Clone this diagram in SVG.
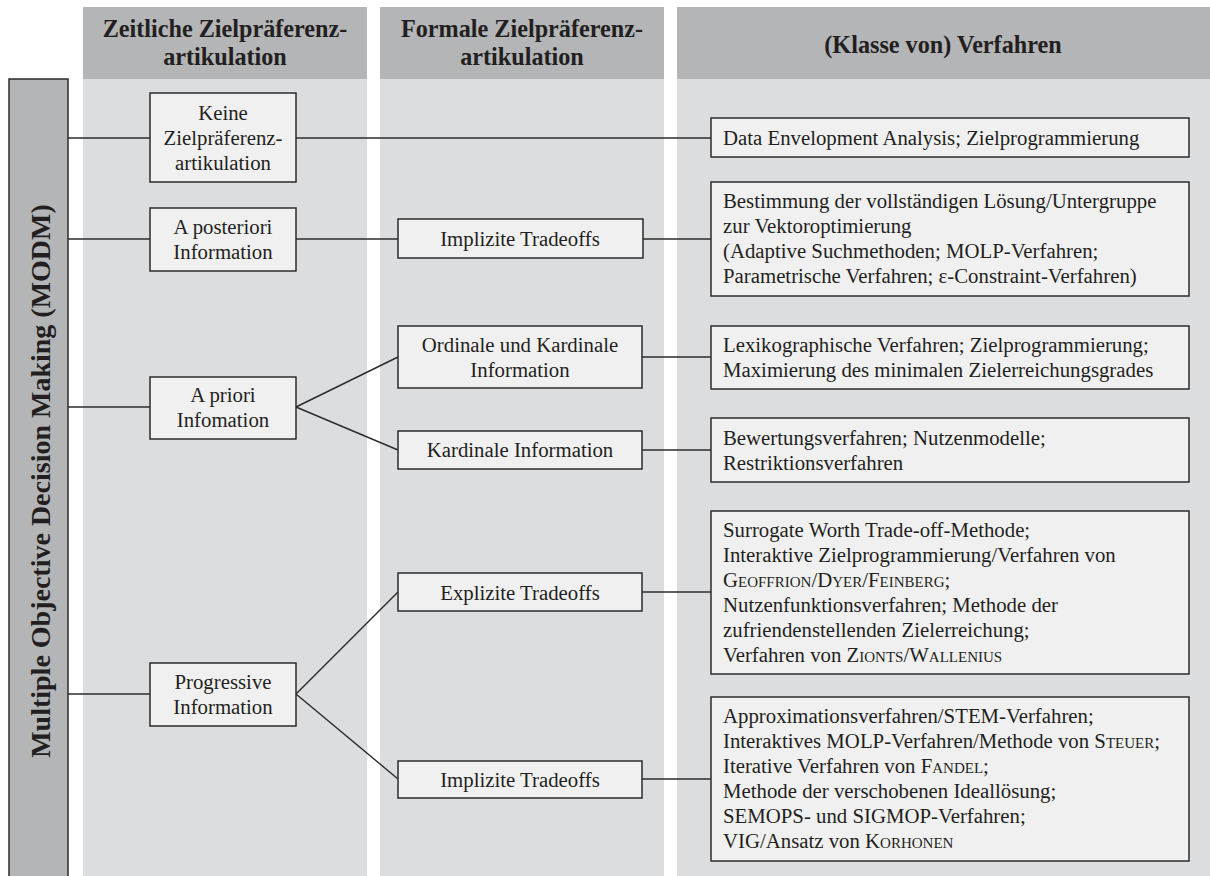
<svg xmlns="http://www.w3.org/2000/svg" width="1210" height="876" viewBox="0 0 1210 876">
  <style>
    .colbody { fill: #dcdddf; }
    .colhead { fill: #b4b5b7; }
    .head { font-family: "Liberation Serif", "Times New Roman", serif; font-weight: bold; font-size: 24.2px; fill: #231f20; text-anchor: middle; }
    .side { font-family: "Liberation Serif", "Times New Roman", serif; font-weight: bold; font-size: 28px; fill: #231f20; text-anchor: middle; }
    .box { fill: #f0f0f0; stroke: #2b2b2b; stroke-width: 1.5; }
    .t { font-family: "Liberation Serif", "Times New Roman", serif; font-size: 20.8px; fill: #231f20; }
    .c { text-anchor: middle; }
    .sc { font-variant: small-caps; }
    .link { stroke: #2b2b2b; stroke-width: 1.4; fill: none; }
  </style>

  <rect width="1210" height="876" fill="#ffffff"/>

  <!-- column backgrounds -->
  <g id="columns">
    <rect class="colbody" x="83" y="79" width="284" height="797"/>
    <rect class="colbody" x="380" y="79" width="284" height="797"/>
    <rect class="colbody" x="677" y="79" width="533" height="797"/>
    <rect class="colhead" x="83" y="7" width="284" height="72"/>
    <rect class="colhead" x="380" y="7" width="284" height="72"/>
    <rect class="colhead" x="677" y="7" width="533" height="72"/>
    <text class="head" x="225" y="37">Zeitliche Zielpräferenz-</text>
    <text class="head" x="225" y="65">artikulation</text>
    <text class="head" x="522" y="37">Formale Zielpräferenz-</text>
    <text class="head" x="522" y="65">artikulation</text>
    <text class="head" x="943" y="53">(Klasse von) Verfahren</text>
  </g>

  <!-- connectors -->
  <g id="connectors">
    <line class="link" x1="68" y1="138" x2="150" y2="138"/>
    <line class="link" x1="68" y1="239" x2="150" y2="239"/>
    <line class="link" x1="68" y1="407" x2="150" y2="407"/>
    <line class="link" x1="68" y1="694" x2="150" y2="694"/>
    <line class="link" x1="296" y1="138" x2="711" y2="138"/>
    <line class="link" x1="296" y1="239" x2="398" y2="239"/>
    <line class="link" x1="643" y1="239" x2="711" y2="239"/>
    <line class="link" x1="296" y1="407" x2="398" y2="357"/>
    <line class="link" x1="296" y1="407" x2="398" y2="450"/>
    <line class="link" x1="642" y1="357" x2="711" y2="357"/>
    <line class="link" x1="642" y1="450" x2="711" y2="450"/>
    <line class="link" x1="296" y1="694" x2="398" y2="592"/>
    <line class="link" x1="296" y1="694" x2="398" y2="779"/>
    <line class="link" x1="642" y1="592" x2="711" y2="592"/>
    <line class="link" x1="642" y1="779" x2="711" y2="779"/>
  </g>

  <!-- root bar -->
  <g id="modm">
    <rect x="9" y="79" width="59" height="800" fill="#b4b5b7" stroke="#2b2b2b" stroke-width="1.5"/>
    <text class="side" transform="translate(50 481) rotate(-90)">Multiple Objective Decision Making (MODM)</text>
  </g>

  <!-- timing of preference articulation -->
  <g id="keine">
    <rect class="box" x="150" y="93" width="146" height="89"/>
    <text class="t c" x="223" y="120">Keine</text>
    <text class="t c" x="223" y="145">Zielpräferenz-</text>
    <text class="t c" x="223" y="170">artikulation</text>
  </g>
  <g id="aposteriori">
    <rect class="box" x="150" y="208" width="146" height="63"/>
    <text class="t c" x="223" y="234">A posteriori</text>
    <text class="t c" x="223" y="259">Information</text>
  </g>
  <g id="apriori">
    <rect class="box" x="150" y="377" width="146" height="62"/>
    <text class="t c" x="223" y="402">A priori</text>
    <text class="t c" x="223" y="427">Infomation</text>
  </g>
  <g id="progressive">
    <rect class="box" x="150" y="663" width="146" height="63"/>
    <text class="t c" x="223" y="689">Progressive</text>
    <text class="t c" x="223" y="714">Information</text>
  </g>

  <!-- formal preference articulation -->
  <g id="implizit1">
    <rect class="box" x="398" y="219" width="245" height="39"/>
    <text class="t c" x="520" y="246">Implizite Tradeoffs</text>
  </g>
  <g id="ordinal">
    <rect class="box" x="398" y="326" width="244" height="62"/>
    <text class="t c" x="520" y="352">Ordinale und Kardinale</text>
    <text class="t c" x="520" y="377">Information</text>
  </g>
  <g id="kardinal">
    <rect class="box" x="398" y="431" width="244" height="38"/>
    <text class="t c" x="520" y="457">Kardinale Information</text>
  </g>
  <g id="explizit">
    <rect class="box" x="398" y="573" width="244" height="38"/>
    <text class="t c" x="520" y="600">Explizite Tradeoffs</text>
  </g>
  <g id="implizit2">
    <rect class="box" x="398" y="761" width="244" height="37"/>
    <text class="t c" x="520" y="787">Implizite Tradeoffs</text>
  </g>

  <!-- methods -->
  <g id="dea">
    <rect class="box" x="711" y="118" width="478" height="39"/>
    <text class="t" x="723" y="145">Data Envelopment Analysis; Zielprogrammierung</text>
  </g>
  <g id="vektor">
    <rect class="box" x="711" y="182" width="478" height="114"/>
    <text class="t" x="723" y="208">Bestimmung der vollständigen Lösung/Untergruppe</text>
    <text class="t" x="723" y="233">zur Vektoroptimierung</text>
    <text class="t" x="723" y="258">(Adaptive Suchmethoden; MOLP-Verfahren;</text>
    <text class="t" x="723" y="283">Parametrische Verfahren; ε-Constraint-Verfahren)</text>
  </g>
  <g id="lexiko">
    <rect class="box" x="711" y="326" width="478" height="63"/>
    <text class="t" x="723" y="352">Lexikographische Verfahren; Zielprogrammierung;</text>
    <text class="t" x="723" y="377">Maximierung des minimalen Zielerreichungsgrades</text>
  </g>
  <g id="bewertung">
    <rect class="box" x="711" y="418" width="478" height="64"/>
    <text class="t" x="723" y="445">Bewertungsverfahren; Nutzenmodelle;</text>
    <text class="t" x="723" y="470">Restriktionsverfahren</text>
  </g>
  <g id="surrogate">
    <rect class="box" x="711" y="511" width="478" height="163"/>
    <text class="t" x="723" y="537">Surrogate Worth Trade-off-Methode;</text>
    <text class="t" x="723" y="562">Interaktive Zielprogrammierung/Verfahren von</text>
    <text class="t" x="723" y="587"><tspan class="sc">Geoffrion</tspan>/<tspan class="sc">Dyer</tspan>/<tspan class="sc">Feinberg</tspan>;</text>
    <text class="t" x="723" y="612">Nutzenfunktionsverfahren; Methode der</text>
    <text class="t" x="723" y="637">zufriendenstellenden Zielerreichung;</text>
    <text class="t" x="723" y="662">Verfahren von <tspan class="sc">Zionts</tspan>/<tspan class="sc">Wallenius</tspan></text>
  </g>
  <g id="approx">
    <rect class="box" x="711" y="697" width="478" height="164"/>
    <text class="t" x="723" y="723">Approximationsverfahren/STEM-Verfahren;</text>
    <text class="t" x="723" y="748">Interaktives MOLP-Verfahren/Methode von <tspan class="sc">Steuer</tspan>;</text>
    <text class="t" x="723" y="773">Iterative Verfahren von <tspan class="sc">Fandel</tspan>;</text>
    <text class="t" x="723" y="798">Methode der verschobenen Ideallösung;</text>
    <text class="t" x="723" y="823">SEMOPS- und SIGMOP-Verfahren;</text>
    <text class="t" x="723" y="848">VIG/Ansatz von <tspan class="sc">Korhonen</tspan></text>
  </g>
</svg>
